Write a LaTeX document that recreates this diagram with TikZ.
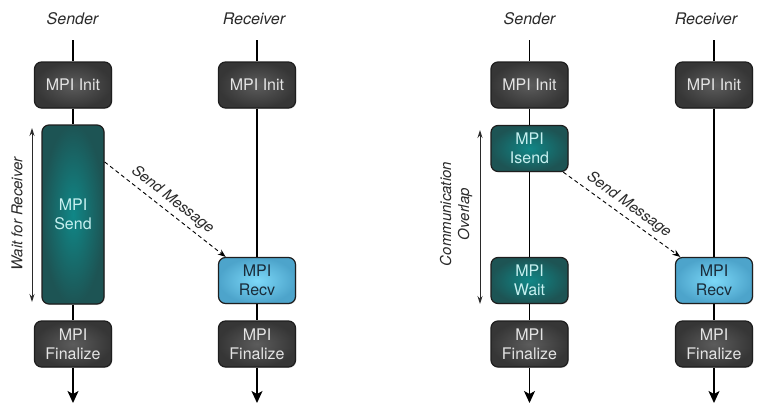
\documentclass[tikz,border=0pt]{standalone}
\usepackage{fontspec}
\setmainfont{TeX Gyre Heros}
\usetikzlibrary{arrows.meta,positioning,shadows}
\definecolor{boxline}{HTML}{1E1E1E}
\definecolor{darkin}{HTML}{5C5C5C}
\definecolor{darkout}{HTML}{363636}
\definecolor{darktext}{HTML}{E4E4E4}
\definecolor{tealin}{HTML}{108787}
\definecolor{tealout}{HTML}{1D5454}
\definecolor{tealtext}{HTML}{C6F0F0}
\definecolor{bluein}{HTML}{7CD8F8}
\definecolor{blueout}{HTML}{4DA4CB}
\definecolor{bluetext}{HTML}{1A2C3A}
\definecolor{labink}{HTML}{2A2A2A}

\begin{document}
\begin{tikzpicture}[x=1pt,y=-1pt,
    font=\fontsize{16}{19}\selectfont,
    % --- process boxes -----------------------------------------------
    box/.style={rectangle,rounded corners=7pt,draw=boxline,line width=1.2pt,
                minimum width=77pt,minimum height=46pt,align=center,inner sep=2pt,
                drop shadow={shadow xshift=0.8pt,shadow yshift=-0.8pt,opacity=0.3}},
    idlebox/.style={box,inner color=darkin,outer color=darkout,text=darktext},
    callbox/.style={box,inner color=tealin,outer color=tealout,text=tealtext},
    recvbox/.style={box,inner color=bluein,outer color=blueout,text=bluetext},
    % --- lifelines and messages --------------------------------------
    life/.style={line width=1.5pt,black},
    lifeend/.style={life,-{Stealth[length=12pt,width=11pt,inset=3pt]}},
    msg/.style={line width=0.9pt,dash pattern=on 4pt off 3pt,
                -{Stealth[length=8pt,width=6pt]}},
    span/.style={line width=0.9pt,labink,
                 {Stealth[length=8pt,width=5pt]}-{Stealth[length=8pt,width=5pt]}},
    % --- labels ------------------------------------------------------
    who/.style={labink,font=\fontsize{16}{19}\selectfont\itshape},
    side/.style={labink,font=\fontsize{15}{18}\selectfont\itshape,rotate=90,align=center},
    msglab/.style={labink,font=\fontsize{15}{18}\selectfont\itshape,sloped,above=1pt},
  ]
\useasboundingbox (0,0) rectangle (758,405);

% =====================================================================
%  Blocking send (left)
% =====================================================================
\node[who] (hSL) at (72.5,19) {Sender};
\node[who] (hRL) at (254,19) {Receiver};

\coordinate (sTopL) at (73,40);
\coordinate (sEndL) at (73,403);
\coordinate (rTopL) at (257,40);
\coordinate (rEndL) at (257,403);

\node[idlebox] (initSL) at (73,85) {MPI Init};
\node[callbox,minimum width=62pt,minimum height=179pt] (sendL) at (73,214.5) {MPI\\Send};
\node[idlebox] (finSL) at (73,344) {MPI\\Finalize};

\node[idlebox] (initRL) at (257,85) {MPI Init};
\node[recvbox] (recvL) at (257,280.5) {MPI\\Recv};
\node[idlebox] (finRL) at (257,344) {MPI\\Finalize};

% ---- lifelines ------------------------------------------------------
\draw[life] (sTopL) -- (initSL);
\draw[life] (initSL) -- (sendL);
\draw[life] (sendL) -- (finSL);
\draw[lifeend] (finSL) -- (sEndL);

\draw[life] (rTopL) -- (initRL);
\draw[life] (initRL) -- (recvL);
\draw[life] (recvL) -- (finRL);
\draw[lifeend] (finRL) -- (rEndL);

% ---- message and waiting span ---------------------------------------
\draw[msg] (sendL.59) -- node[msglab] (msgL) {Send Message} (recvL.143);

\coordinate (wTop) at (32,128);
\coordinate (wBot) at (32,302);
\draw[span] (wTop) -- (wBot);
\node[side] (waitlab) at (17,214) {Wait for Receiver};

% =====================================================================
%  Non-blocking send (right)
% =====================================================================
\node[who] (hSR) at (529.5,19) {Sender};
\node[who] (hRR) at (706,19) {Receiver};

\coordinate (sTopR) at (529.5,40);
\coordinate (sEndR) at (529.5,403);
\coordinate (rTopR) at (714,40);
\coordinate (rEndR) at (714,403);

\node[idlebox] (initSR) at (529.5,85) {MPI Init};
\node[callbox] (isendR) at (529.5,148.5) {MPI\\Isend};
\node[callbox] (waitR) at (529.5,280.5) {MPI\\Wait};
\node[idlebox] (finSR) at (529.5,344) {MPI\\Finalize};

\node[idlebox] (initRR) at (714,85) {MPI Init};
\node[recvbox] (recvR) at (714,280.5) {MPI\\Recv};
\node[idlebox] (finRR) at (714,344) {MPI\\Finalize};

% ---- lifelines ------------------------------------------------------
\draw[life] (sTopR) -- (initSR);
\draw[life] (initSR) -- (isendR);
\draw[life] (isendR) -- (waitR);
\draw[life] (waitR) -- (finSR);
\draw[lifeend] (finSR) -- (sEndR);

\draw[life] (rTopR) -- (initRR);
\draw[life] (initRR) -- (recvR);
\draw[life] (recvR) -- (finRR);
\draw[lifeend] (finRR) -- (rEndR);

% ---- message and overlap span ---------------------------------------
\draw[msg] (isendR.-35) -- node[msglab] (msgR) {Send Message} (recvR.145);

\coordinate (oTop) at (480,130);
\coordinate (oBot) at (480,304);
\draw[span] (oTop) -- (oBot);
\node[side] (overlab) at (456,214) {Communication\\Overlap};

\end{tikzpicture}
\end{document}
